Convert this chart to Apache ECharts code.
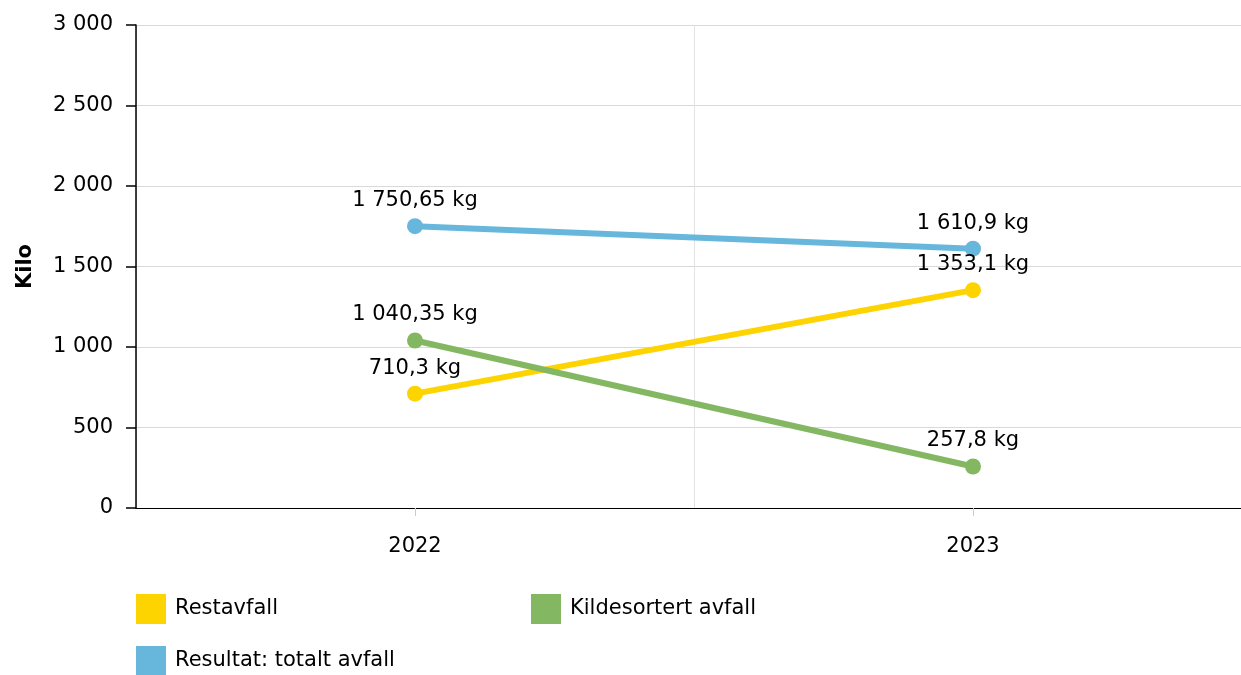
<!DOCTYPE html>
<html><head><meta charset="utf-8">
<script src="https://cdn.jsdelivr.net/npm/echarts@6/dist/echarts.min.js"></script>
<style>html,body{margin:0;padding:0;background:#fff;overflow:hidden}#c{width:1252px;height:675px}</style>
</head><body><div id="c"></div>
<script>
const categories = ['2022', '2023'];
const restavfall = [710.3, 1353.1];
const kildesortert = [1040.35, 257.8];
const totalt = [1750.65, 1610.9];
const seriesNames = ['Restavfall', 'Kildesortert avfall', 'Resultat: totalt avfall'];
const colors = ['#fdd400', '#84b761', '#67b7dc'];

function fmtNum(v) {
  const parts = String(v).split('.');
  const intPart = parts[0].replace(/\B(?=(\d{3})+(?!\d))/g, ' ');
  return parts.length > 1 ? intPart + ',' + parts[1] : intPart;
}
const FONT = 'DejaVu Sans';
const FS = 21;
const chart = echarts.init(document.getElementById('c'));
function mkSeries(name, data, color) {
  return {
    name: name, type: 'line', data: data,
    symbol: 'circle', symbolSize: 16,
    lineStyle: { width: 6, color: color },
    itemStyle: { color: color },
    label: { show: true, position: 'top', distance: 7, color: '#000',
      fontFamily: FONT, fontSize: FS,
      formatter: p => fmtNum(p.value) + ' kg' },
    emphasis: { disabled: true }
  };
}
const legendBase = {
  icon: 'rect', itemWidth: 30, itemHeight: 30, orient: 'horizontal', padding: 0,
  textStyle: { fontFamily: FONT, fontSize: FS, color: '#000', padding: [0, 0, 0, 4] },
  selectedMode: false
};
chart.setOption({
  animation: false,
  color: colors,
  textStyle: { fontFamily: FONT },
  grid: { left: 136, top: 25, right: 0, height: 483 },
  legend: [
    Object.assign({}, legendBase, { data: [seriesNames[0]], left: 136, top: 594 }),
    Object.assign({}, legendBase, { data: [seriesNames[1]], left: 531, top: 594 }),
    Object.assign({}, legendBase, { data: [seriesNames[2]], left: 136, top: 646 })
  ],
  xAxis: {
    type: 'category', data: categories, boundaryGap: true,
    axisLine: { lineStyle: { color: '#000', width: 1 } },
    axisTick: { show: true, alignWithLabel: true, length: 8, lineStyle: { color: '#ccc' } },
    axisLabel: { color: '#000', fontFamily: FONT, fontSize: FS, margin: 28 },
    splitLine: { show: true, lineStyle: { color: '#e3e3e3' } }
  },
  yAxis: {
    type: 'value', min: 0, max: 3000, interval: 500,
    name: 'Kilo', nameLocation: 'middle', nameGap: 100, nameRotate: 90,
    nameTextStyle: { color: '#000', fontFamily: FONT, fontSize: FS, fontWeight: 'bold' },
    axisLine: { show: true, lineStyle: { color: '#000', width: 1.5 } },
    axisTick: { show: true, length: 10, lineStyle: { color: '#000', width: 1.5 } },
    axisLabel: { color: '#000', fontFamily: FONT, fontSize: FS, margin: 23, formatter: v => fmtNum(v) },
    splitLine: { show: true, lineStyle: { color: '#d9d9d9' } }
  },
  series: [
    mkSeries(seriesNames[0], restavfall, colors[0]),
    mkSeries(seriesNames[1], kildesortert, colors[1]),
    mkSeries(seriesNames[2], totalt, colors[2])
  ]
});
</script></body></html>
